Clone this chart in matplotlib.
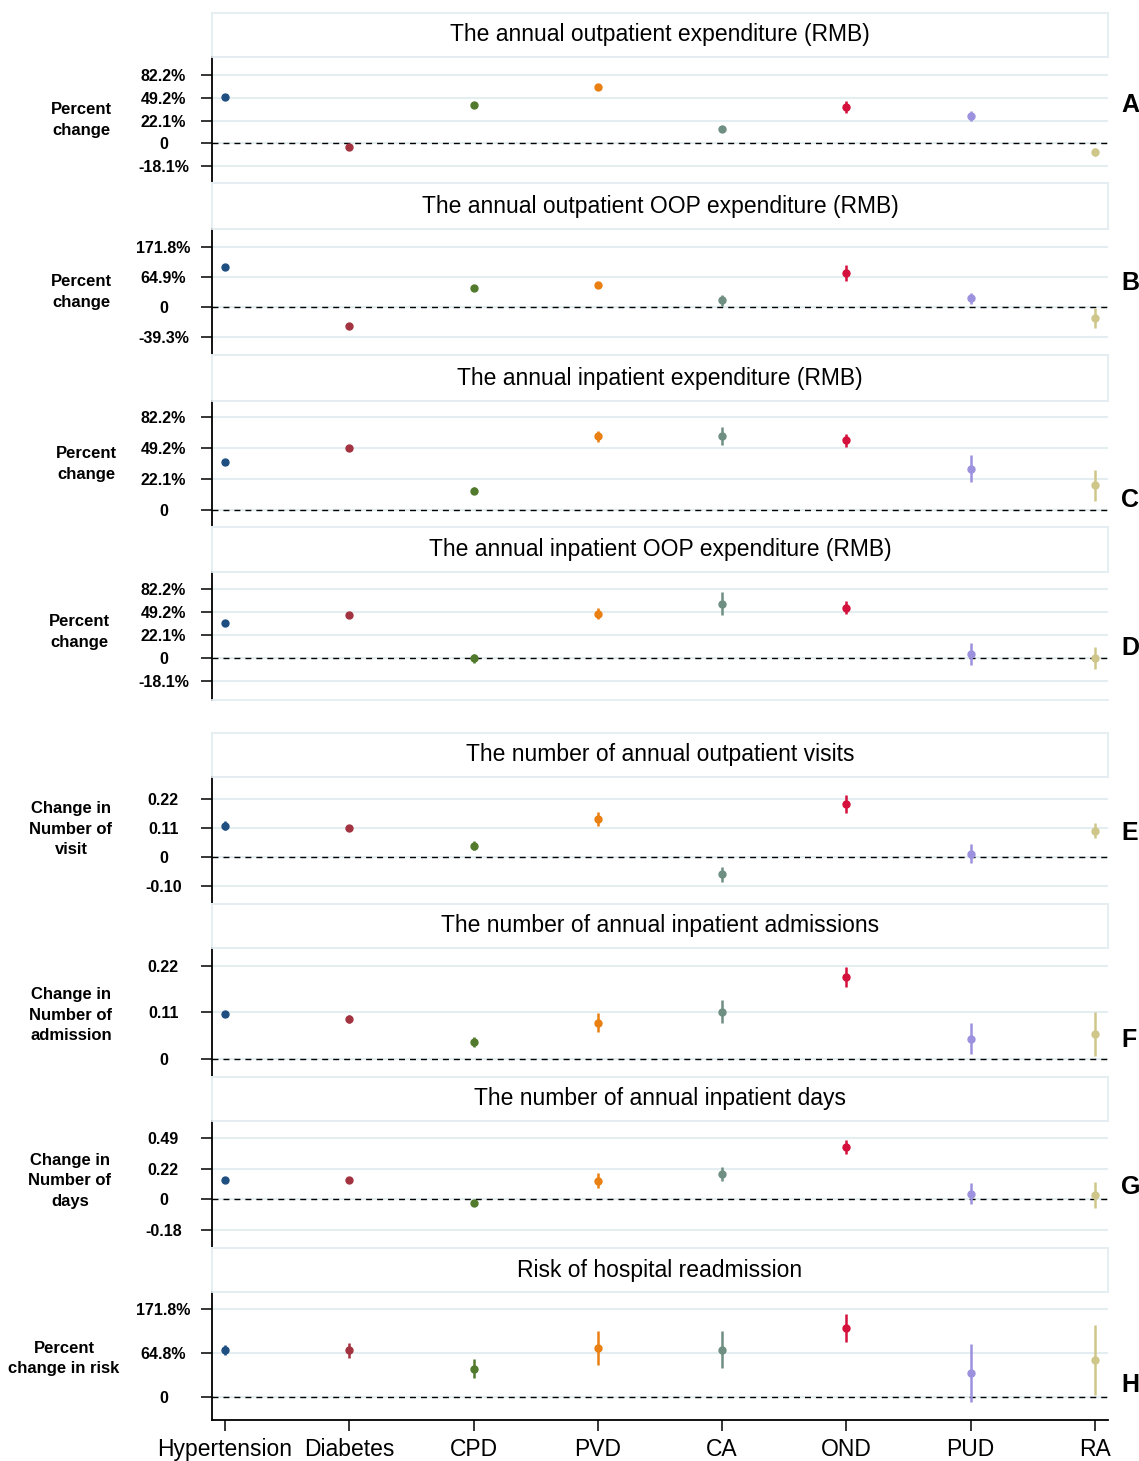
import numpy as np
import matplotlib
matplotlib.use("Agg")
import matplotlib.pyplot as plt

plt.rcParams['font.family'] = ['Liberation Sans', 'DejaVu Sans']
NARROW = ['Liberation Sans Narrow', 'Liberation Sans', 'DejaVu Sans']

# categories and colours
categories = ["Hypertension", "Diabetes", "CPD", "PVD", "CA", "OND", "PUD", "RA"]
colors = ["#1f4f80", "#a33340", "#527a2c", "#ea7f12", "#6f8f82", "#d4103c", "#9c91de", "#cfc68a"]

# coefficients (log scale) and half-width of the CI, one pair per panel
coef_a = [0.41, -0.03, 0.34, 0.50, 0.13, 0.32, 0.24, -0.08]
err_a = [0.01, 0.01, 0.01, 0.01, 0.025, 0.055, 0.04, 0.035]
coef_b = [0.66, -0.31, 0.31, 0.36, 0.11, 0.56, 0.15, -0.18]
err_b = [0.02, 0.02, 0.02, 0.02, 0.09, 0.13, 0.09, 0.16]
coef_c = [0.31, 0.40, 0.124, 0.477, 0.48, 0.45, 0.267, 0.158]
err_c = [0.01, 0.01, 0.024, 0.038, 0.057, 0.043, 0.087, 0.10]
coef_d = [0.304, 0.374, -0.005, 0.386, 0.473, 0.438, 0.032, -0.005]
err_d = [0.01, 0.01, 0.04, 0.05, 0.10, 0.06, 0.094, 0.097]
coef_e = [0.108, 0.099, 0.040, 0.131, -0.058, 0.183, 0.012, 0.091]
err_e = [0.015, 0.005, 0.015, 0.023, 0.026, 0.032, 0.032, 0.026]
coef_f = [0.096, 0.086, 0.036, 0.078, 0.102, 0.177, 0.043, 0.054]
err_f = [0.005, 0.009, 0.011, 0.021, 0.025, 0.022, 0.034, 0.048]
coef_g = [0.127, 0.127, -0.022, 0.122, 0.168, 0.345, 0.037, 0.030]
err_g = [0.01, 0.005, 0.01, 0.05, 0.046, 0.044, 0.068, 0.085]
coef_h = [0.537, 0.53, 0.325, 0.557, 0.537, 0.784, 0.273, 0.424]
err_h = [0.06, 0.09, 0.11, 0.19, 0.21, 0.16, 0.33, 0.40]

titles = [
    "The annual outpatient expenditure (RMB)",
    "The annual outpatient OOP expenditure (RMB)",
    "The annual inpatient expenditure (RMB)",
    "The annual inpatient OOP expenditure (RMB)",
    "The number of annual outpatient visits",
    "The number of annual inpatient admissions",
    "The number of annual inpatient days",
    "Risk of hospital readmission",
]
ylabels = [
    "Percent\nchange", "Percent\nchange", "Percent\nchange", "Percent\nchange",
    "Change in\nNumber of\nvisit", "Change in\nNumber of\nadmission",
    "Change in\nNumber of\ndays", "Percent\nchange in risk",
]
letters = ["A", "B", "C", "D", "E", "F", "G", "H"]

# y ticks (log coefficient) and their labels
ticks_a = [0.6, 0.4, 0.2, 0, -0.2]
labels_a = ["82.2%", "49.2%", "22.1%", "0", "-18.1%"]
ticks_b = [1, 0.5, 0, -0.5]
labels_b = ["171.8%", "64.9%", "0", "-39.3%"]
ticks_c = [0.6, 0.4, 0.2, 0]
labels_c = ["82.2%", "49.2%", "22.1%", "0"]
ticks_e = [0.2, 0.1, 0, -0.1]
labels_e = ["0.22", "0.11", "0", "-0.10"]
ticks_f = [0.2, 0.1, 0]
labels_f = ["0.22", "0.11", "0"]
ticks_g = [0.4, 0.2, 0, -0.2]
labels_g = ["0.49", "0.22", "0", "-0.18"]
ticks_h = [1, 0.5, 0]
labels_h = ["171.8%", "64.8%", "0"]

panels = [
    (coef_a, err_a, ticks_a, labels_a, (-0.35, 0.76)),
    (coef_b, err_b, ticks_b, labels_b, (-0.79, 1.29)),
    (coef_c, err_c, ticks_c, labels_c, (-0.113, 0.707)),
    (coef_d, err_d, ticks_a, labels_a, (-0.368, 0.748)),
    (coef_e, err_e, ticks_e, labels_e, (-0.161, 0.276)),
    (coef_f, err_f, ticks_f, labels_f, (-0.04, 0.24)),
    (coef_g, err_g, ticks_g, labels_g, (-0.321, 0.515)),
    (coef_h, err_h, ticks_h, labels_h, (-0.258, 1.193)),
]

# layout in pixels: (title box top, plot top, plot bottom)
W, H = 1139, 1461
LEFT, RIGHT = 212, 1108
rows = [(13, 57, 183), (183, 229, 355), (355, 401, 527), (527, 572, 700),
        (733, 777, 904), (904, 948, 1077), (1077, 1121, 1248), (1248, 1292, 1420)]
ylabel_x = [81, 81, 86, 79, 71, 71, 70, 64]
ylabel_y = [0.5, 0.5, 0.5, 0.53, 0.59, 0.48, 0.53, 0.48]
letter_y = [105, 283, 500, 648, 833, 1040, 1187, 1385]

GRID = "#e4edf0"


def rect(top, bottom):
    return [LEFT / W, 1 - bottom / H, (RIGHT - LEFT) / W, (bottom - top) / H]


fig = plt.figure(figsize=(W / 100, H / 100), dpi=100)
x = np.arange(1, len(categories) + 1)

for i, (coef, err, ticks, tlabels, ylim) in enumerate(panels):
    t_top, p_top, p_bot = rows[i]

    # title box
    axt = fig.add_axes(rect(t_top, p_top))
    axt.set_xticks([])
    axt.set_yticks([])
    for s in axt.spines.values():
        s.set_color(GRID)
        s.set_linewidth(1.3)
    axt.text(0.5, 0.5, titles[i], ha='center', va='center', fontsize=16.5,
             transform=axt.transAxes)

    # plot area
    ax = fig.add_axes(rect(p_top, p_bot))
    for j in range(len(categories)):
        ax.errorbar(x[j], coef[j], yerr=err[j], fmt='o', color=colors[j],
                    markersize=5, elinewidth=1.8, capsize=0, zorder=3)
    ax.axhline(0, color='black', lw=1.0, ls=(0, (4.3, 3.6)), zorder=2)
    ax.set_xlim(0.895, 8.105)
    ax.set_ylim(*ylim)
    ax.set_yticks(ticks, tlabels, fontsize=11.5, fontweight='bold', ha='center',
                  family=NARROW)
    ax.tick_params(axis='y', length=8, width=1.1, pad=27)
    ax.yaxis.grid(True, color=GRID, lw=1.5)
    ax.set_axisbelow(True)
    ax.spines['right'].set_visible(False)
    ax.spines['top'].set_color(GRID)
    ax.spines['top'].set_linewidth(1.3)
    ax.spines['left'].set_linewidth(1.3)
    if i == len(panels) - 1:
        ax.set_xticks(x, categories, fontsize=16.5)
        ax.tick_params(axis='x', length=8, width=1.1, pad=5)
        ax.spines['bottom'].set_linewidth(1.3)
    else:
        ax.set_xticks([])
        ax.spines['bottom'].set_color(GRID)
        ax.spines['bottom'].set_linewidth(1.3)

    ax.set_ylabel(ylabels[i], rotation=0, ha='center', va='center', fontsize=12,
                  fontweight='bold', linespacing=1.45, family=NARROW)
    ax.yaxis.set_label_coords((ylabel_x[i] - LEFT) / (RIGHT - LEFT), ylabel_y[i])

    fig.text(1121 / W, 1 - letter_y[i] / H, letters[i], fontsize=18,
             fontweight='bold', ha='left', va='center')

fig.savefig("out.png", dpi=100, facecolor='white')
